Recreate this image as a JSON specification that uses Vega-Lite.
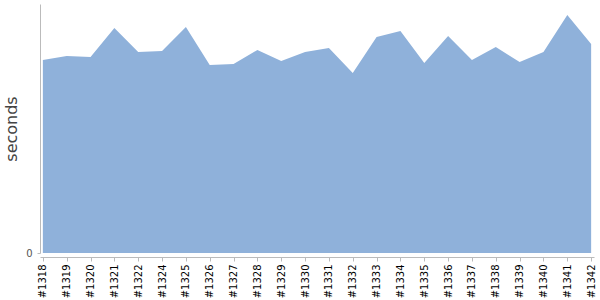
{
  "$schema": "https://vega.github.io/schema/vega-lite/v6.json",
  "width": 554,
  "height": 249,
  "padding": {"left": 40, "top": 4, "right": 6, "bottom": 47},
  "autosize": {"type": "none"},
  "config": {"view": {"stroke": null}, "font": "DejaVu Sans"},
  "data": {"values": [
    {"build": "#1318", "seconds": 193},
    {"build": "#1319", "seconds": 197},
    {"build": "#1320", "seconds": 196},
    {"build": "#1321", "seconds": 225},
    {"build": "#1322", "seconds": 201},
    {"build": "#1324", "seconds": 202},
    {"build": "#1325", "seconds": 226},
    {"build": "#1326", "seconds": 188},
    {"build": "#1327", "seconds": 189},
    {"build": "#1328", "seconds": 203},
    {"build": "#1329", "seconds": 192},
    {"build": "#1330", "seconds": 201},
    {"build": "#1331", "seconds": 205},
    {"build": "#1332", "seconds": 180},
    {"build": "#1333", "seconds": 216},
    {"build": "#1334", "seconds": 222},
    {"build": "#1335", "seconds": 190},
    {"build": "#1336", "seconds": 217},
    {"build": "#1337", "seconds": 193},
    {"build": "#1338", "seconds": 206},
    {"build": "#1339", "seconds": 191},
    {"build": "#1340", "seconds": 201},
    {"build": "#1341", "seconds": 238},
    {"build": "#1342", "seconds": 209}
  ]},
  "mark": {"type": "area", "color": "#8fb1da", "opacity": 1},
  "encoding": {
    "x": {
      "field": "build", "type": "ordinal", "sort": null,
      "scale": {"type": "point", "padding": 0.12},
      "axis": {
        "title": null, "labelAngle": -90, "labelFontSize": 10, "labelColor": "#000",
        "domainColor": "#bbb", "tickColor": "#bbb", "tickSize": 4, "offset": 4,
        "labelPadding": 3, "labelBaseline": "middle"
      }
    },
    "y": {
      "field": "seconds", "type": "quantitative",
      "scale": {"domain": [0, 249], "nice": false},
      "axis": {
        "title": "seconds", "titleFontSize": 16, "titleFontWeight": "normal", "titleColor": "#444",
        "titlePadding": 6,
        "values": [0], "labelFontSize": 10, "labelColor": "#555", "grid": false,
        "labelPadding": 5,
        "domainColor": "#bbb", "tickColor": "#bbb", "tickSize": 3
      }
    }
  }
}
